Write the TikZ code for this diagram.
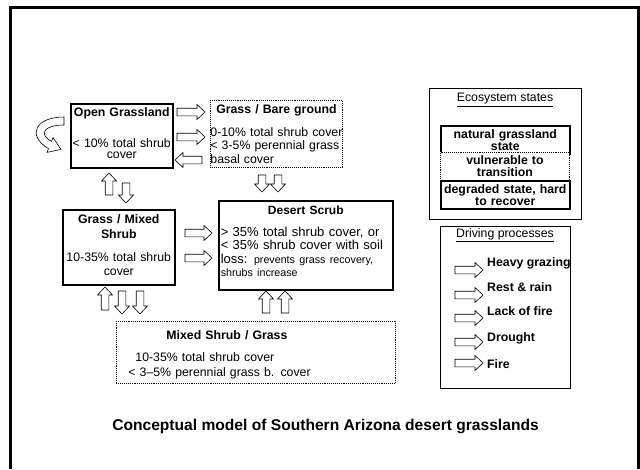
\documentclass[tikz,border=0pt]{standalone}
\usepackage{fontspec}
\setmainfont{Liberation Sans}

\tikzset{
  pics/blockarrow/.style={code={
    \draw [fill=white, line width=0.6pt] (0,-3.8) -- ({#1-8},-3.8) -- ({#1-8},-7.5) -- (#1,0) -- ({#1-8},7.5) -- ({#1-8},3.8) -- (0,3.8) -- cycle;
  }}
}

\begin{document}
\begin{tikzpicture}[x=1pt,y=-1pt]
		\tikzstyle{every node}+=[inner sep=0pt, font=\fontsize{12.3}{13.5}\selectfont]
		\tikzstyle{statebox}=[draw, line width=1.6pt, anchor=north west]
		\tikzstyle{riskbox}=[draw, densely dotted, line width=0.9pt, anchor=north west]
		\tikzstyle{keybox}=[draw, line width=0.8pt, anchor=north west]
		\tikzstyle{keystate}=[minimum width=129, minimum height=28, text width=129, align=center, font=\fontsize{12.3}{12}\selectfont\bfseries]
		\tikzstyle{process}=[anchor=west, font=\fontsize{12.3}{13.5}\selectfont\bfseries]
		\useasboundingbox (0,0) rectangle (640,469);
		\draw [line width=3pt] (10.5,469) -- (10.5,7.5) -- (638,7.5) -- (638,469);
		\node [statebox, minimum width=102, minimum height=64, text width=102, align=center] (og) at (70,103) {\textbf{Open Grassland}\\[17.5pt]< 10\% total shrub\\[-2pt]cover\rule[-6pt]{0pt}{0pt}};
		\node [riskbox, minimum width=132, minimum height=67, text width=132, align=left] (gb) at (210,100) {\makebox[\hsize]{\textbf{Grass / Bare ground}}\\[9.5pt]0-10\% total shrub cover\\< 3-5\% perennial grass\\basal cover};
		\node [statebox, minimum width=112, minimum height=75, text width=112, align=center] (gm) at (62,209) {\textbf{Grass / Mixed}\\[1.5pt]\textbf{Shrub}\\[9.5pt]10-35\% total shrub\\cover\rule[-5pt]{0pt}{0pt}};
		\node [statebox, minimum width=174, minimum height=89, text width=170, inner xsep=2pt, align=left, font=\fontsize{13}{13.5}\selectfont] (ds) at (218,200) {\makebox[\hsize]{\fontsize{12}{13.5}\selectfont\bfseries Desert Scrub}\\[8.5pt]> 35\% total shrub cover, or\\< 35\% shrub cover with soil\\loss: {\fontsize{10.7}{13.5}\selectfont prevents grass recovery,}\\{\fontsize{10.7}{13.5}\selectfont shrubs increase}\rule[-8pt]{0pt}{0pt}};
		\node [riskbox, minimum width=279, minimum height=62, text width=279, align=left] (ms) at (116,321) {\rule{0pt}{14.4pt}\hspace*{50pt}\textbf{Mixed Shrub / Grass}\\[8.5pt]\hspace*{19pt}10-35\% total shrub cover\\[1.5pt]\hspace*{12pt}< 3--5\% perennial grass b. cover};
		\draw [fill=white, line width=0.6pt] (64,117) .. controls (36,117) and (26,135) .. (48.5,148.7) -- (47,152.4) -- (61,149.4) -- (53,137.6) -- (51.5,141.3) .. controls (38,134) and (44,125) .. (64,125) -- cycle;
		\pic at (177,112) {blockarrow=28};
		\pic at (177,137) {blockarrow=28};
		\pic [rotate=180] at (202,160) {blockarrow=27};
		\pic at (185,233) {blockarrow=27};
		\pic at (185,258) {blockarrow=27};
		\pic [rotate=90] at (109,195) {blockarrow=22};
		\pic [rotate=-90] at (126,183) {blockarrow=20};
		\pic [rotate=-90] at (262,175) {blockarrow=17};
		\pic [rotate=-90] at (278,175) {blockarrow=17};
		\pic [rotate=90] at (105,310) {blockarrow=23};
		\pic [rotate=-90] at (122,291) {blockarrow=23};
		\pic [rotate=-90] at (140,291) {blockarrow=23};
		\pic [rotate=90] at (266,313) {blockarrow=22};
		\pic [rotate=90] at (285,313) {blockarrow=22};
		\node [keybox, minimum width=152, minimum height=131] (eco) at (429,88) {};
		\node (ecohead) at (505,100) {\underline{Ecosystem states}};
		\node [statebox, keystate] (natural) at (440,125) {natural grassland\\state};
		\node [riskbox, keystate, fill=white] (vulnerable) at (440,152) {vulnerable to\\transition};
		\node [statebox, keystate] (degraded) at (440,180) {degraded state, hard\\to recover};
		\node [keybox, minimum width=130, minimum height=162] (drive) at (440,226) {};
		\node (drivehead) at (505,235) {\underline{Driving processes}};
		\pic at (455,270) {blockarrow=28};
		\node [process] (grazing) at (487,263) {Heavy grazing};
		\pic at (455,295) {blockarrow=28};
		\node [process] (rest) at (487,287) {Rest \& rain};
		\pic at (455,318) {blockarrow=28};
		\node [process] (nofire) at (487,311) {Lack of fire};
		\pic at (455,342) {blockarrow=28};
		\node [process] (drought) at (487,338) {Drought};
		\pic at (455,363) {blockarrow=28};
		\node [process] (fire) at (487,364) {Fire};
		\node [font=\fontsize{15.6}{18}\selectfont\bfseries] (caption) at (325.5,426.5) {Conceptual model of Southern Arizona desert grasslands};
	\end{tikzpicture}
\end{document}
